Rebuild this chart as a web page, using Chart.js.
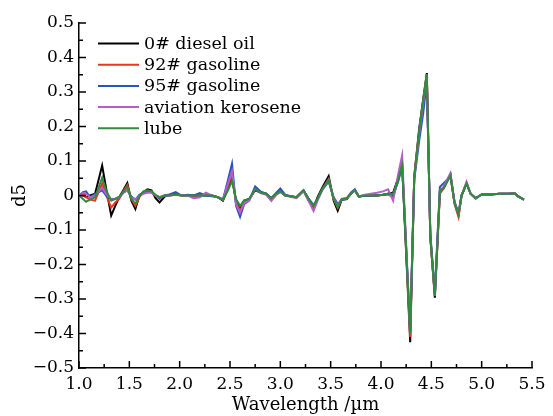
<!DOCTYPE html>
<html>
<head>
<meta charset="utf-8">
<script src="https://cdn.jsdelivr.net/npm/chart.js@4/dist/chart.umd.min.js"></script>
<style>
  html, body { margin: 0; padding: 0; background: #fff; }
  #wrap { width: 553px; height: 416px; }
</style>
</head>
<body>
<div id="wrap"><canvas id="c" width="553" height="416"></canvas></div>
<script>
// Fifth-derivative spectra (d5) of five oils against wavelength in µm
const wavelength = [
  1.00, 1.04, 1.07, 1.11, 1.16, 1.23, 1.27, 1.32, 1.36, 1.40,
  1.44, 1.48, 1.52, 1.56, 1.60, 1.64, 1.68, 1.72, 1.76, 1.80,
  1.85, 1.90, 1.96, 2.02, 2.08, 2.14, 2.20, 2.26, 2.32, 2.38,
  2.43, 2.48, 2.52, 2.56, 2.60, 2.64, 2.69, 2.75, 2.81, 2.86,
  2.91, 2.96, 3.00, 3.05, 3.10, 3.16, 3.23, 3.28, 3.33, 3.37,
  3.42, 3.48, 3.53, 3.57, 3.61, 3.66, 3.70, 3.74, 3.78, 3.84,
  3.90, 3.96, 4.02, 4.07, 4.12, 4.17, 4.21, 4.29, 4.33, 4.38,
  4.42, 4.455, 4.49, 4.535, 4.585, 4.62, 4.69, 4.73, 4.77, 4.80,
  4.85, 4.89, 4.94, 5.00, 5.08, 5.18, 5.26, 5.33, 5.36, 5.42
];

const diesel0 = [
  0.000, 0.000, -0.005, 0.000, 0.005, 0.087, 0.020, -0.058, -0.030, -0.005,
  0.015, 0.036, -0.015, -0.039, 0.000, 0.010, 0.018, 0.015, -0.008, -0.020,
  -0.003, 0.002, 0.005, 0.000, 0.000, 0.000, 0.000, 0.000, 0.000, -0.005,
  -0.015, 0.020, 0.050, -0.015, -0.035, -0.015, -0.010, 0.015, 0.008, 0.005,
  -0.008, 0.005, 0.012, 0.000, -0.002, -0.005, 0.015, -0.010, -0.035, -0.005,
  0.025, 0.056, -0.015, -0.044, -0.012, -0.010, 0.005, 0.015, -0.003, 0.000,
  0.000, 0.000, 0.002, 0.005, 0.008, 0.050, 0.090, -0.425, 0.055, 0.195,
  0.280, 0.355, -0.120, -0.296, 0.010, 0.020, 0.060, -0.020, -0.058, 0.000,
  0.035, 0.005, -0.008, 0.003, 0.003, 0.005, 0.005, 0.006, -0.002, -0.012
];

const gasoline92 = [
  0.000, 0.005, -0.005, -0.012, -0.015, 0.035, 0.000, -0.035, -0.020, -0.010,
  0.012, 0.030, -0.010, -0.030, -0.005, 0.010, 0.014, 0.012, 0.000, -0.010,
  0.000, 0.000, 0.002, 0.000, 0.000, -0.003, 0.000, 0.003, 0.000, -0.005,
  -0.012, 0.030, 0.060, -0.020, -0.045, -0.020, -0.012, 0.018, 0.010, 0.005,
  -0.010, 0.005, 0.012, 0.000, -0.002, -0.005, 0.015, -0.015, -0.038, -0.010,
  0.020, 0.048, -0.010, -0.036, -0.012, -0.008, 0.005, 0.015, -0.003, 0.000,
  0.000, 0.000, 0.002, 0.003, -0.005, 0.045, 0.095, -0.410, 0.050, 0.185,
  0.275, 0.350, -0.120, -0.290, 0.005, 0.020, 0.060, -0.025, -0.062, 0.000,
  0.035, 0.005, -0.008, 0.003, 0.003, 0.005, 0.005, 0.006, -0.002, -0.012
];

const gasoline95 = [
  0.000, 0.010, 0.012, -0.005, 0.005, 0.015, 0.000, -0.010, -0.010, -0.005,
  0.008, 0.015, -0.003, -0.012, 0.002, 0.008, 0.010, 0.010, 0.000, -0.008,
  0.000, 0.003, 0.010, 0.000, 0.002, 0.000, 0.007, 0.000, -0.002, -0.005,
  -0.012, 0.045, 0.092, -0.030, -0.062, -0.025, -0.015, 0.026, 0.010, 0.005,
  -0.008, 0.008, 0.020, 0.002, -0.002, -0.006, 0.014, -0.008, -0.028, -0.010,
  0.018, 0.040, -0.005, -0.025, -0.012, -0.010, 0.008, 0.018, -0.002, 0.000,
  0.000, 0.000, 0.002, 0.005, 0.000, 0.040, 0.085, -0.390, 0.045, 0.160,
  0.240, 0.330, -0.110, -0.280, 0.025, 0.035, 0.055, -0.018, -0.050, 0.000,
  0.035, 0.005, -0.008, 0.003, 0.003, 0.005, 0.005, 0.006, -0.002, -0.012
];

const aviationKerosene = [
  0.000, 0.008, 0.005, -0.005, 0.000, 0.022, 0.005, -0.012, -0.010, -0.005,
  0.008, 0.015, -0.005, -0.012, 0.000, 0.005, 0.008, 0.008, 0.000, -0.005,
  0.000, 0.000, 0.003, 0.000, 0.000, -0.008, -0.005, 0.008, 0.000, -0.005,
  -0.012, 0.035, 0.070, -0.025, -0.050, -0.022, -0.015, 0.018, 0.006, 0.002,
  -0.016, 0.002, 0.010, 0.000, -0.004, -0.008, 0.012, -0.015, -0.045, -0.015,
  0.018, 0.045, -0.008, -0.030, -0.010, -0.008, 0.005, 0.015, -0.003, 0.002,
  0.005, 0.008, 0.012, 0.018, -0.015, 0.060, 0.116, -0.400, 0.050, 0.180,
  0.270, 0.350, -0.120, -0.290, 0.015, 0.025, 0.065, -0.020, -0.055, 0.000,
  0.040, 0.005, -0.010, 0.003, 0.003, 0.005, 0.005, 0.006, -0.002, -0.012
];

const lube = [
  0.000, -0.010, -0.018, -0.012, -0.005, 0.052, 0.015, -0.015, -0.010, -0.003,
  0.010, 0.025, -0.010, -0.024, -0.002, 0.012, 0.015, 0.012, 0.002, -0.005,
  0.000, 0.000, 0.002, 0.000, 0.000, 0.000, 0.000, 0.000, 0.000, -0.005,
  -0.012, 0.015, 0.042, -0.010, -0.030, -0.015, -0.010, 0.018, 0.008, 0.005,
  -0.008, 0.005, 0.012, 0.000, -0.002, -0.005, 0.015, -0.010, -0.030, -0.010,
  0.020, 0.044, -0.010, -0.034, -0.010, -0.008, 0.005, 0.015, -0.003, 0.000,
  0.000, 0.000, 0.002, 0.005, 0.005, 0.044, 0.087, -0.400, 0.050, 0.190,
  0.280, 0.352, -0.120, -0.290, 0.015, 0.020, 0.058, -0.020, -0.055, 0.000,
  0.035, 0.005, -0.008, 0.003, 0.003, 0.005, 0.005, 0.006, -0.002, -0.012
];

// Legend order (top to bottom)
const seriesNames  = ['0# diesel oil', '92# gasoline', '95# gasoline', 'aviation kerosene', 'lube'];
const seriesValues = [diesel0, gasoline92, gasoline95, aviationKerosene, lube];
const seriesColors = ['#000000', '#ee3322', '#2a52c4', '#b45ec8', '#2e8c3c'];

const xTicks = [1.0, 1.5, 2.0, 2.5, 3.0, 3.5, 4.0, 4.5, 5.0, 5.5];
const xTickLabels = ['1.0', '1.5', '2.0', '2.5', '3.0', '3.5', '4.0', '4.5', '5.0', '5.5'];
const yTicks = [-0.5, -0.4, -0.3, -0.2, -0.1, 0, 0.1, 0.2, 0.3, 0.4, 0.5];
const yTickLabels = ['\u22120.5', '\u22120.4', '\u22120.3', '\u22120.2', '\u22120.1', '0', '0.1', '0.2', '0.3', '0.4', '0.5'];

const FONT = "'DejaVu Serif', 'Liberation Serif', serif";
Chart.defaults.font.family = FONT;
Chart.defaults.font.size = 17;
Chart.defaults.color = '#000';

// Inward major and minor tick marks on the left and bottom axes
const inwardTicks = {
  id: 'inwardTicks',
  afterDraw(chart) {
    const { ctx, chartArea: a, scales: { x, y } } = chart;
    ctx.save();
    ctx.strokeStyle = '#000';
    ctx.lineWidth = 1.5;
    ctx.beginPath();
    xTicks.forEach((v, i) => {
      const p = x.getPixelForValue(v);
      ctx.moveTo(p, a.bottom); ctx.lineTo(p, a.bottom - 7);
      if (i < xTicks.length - 1) {
        const m = x.getPixelForValue((v + xTicks[i + 1]) / 2);
        ctx.moveTo(m, a.bottom); ctx.lineTo(m, a.bottom - 4);
      }
    });
    yTicks.forEach((v, i) => {
      const p = y.getPixelForValue(v);
      ctx.moveTo(a.left, p); ctx.lineTo(a.left + 7, p);
      if (i < yTicks.length - 1) {
        const m = y.getPixelForValue((v + yTicks[i + 1]) / 2);
        ctx.moveTo(a.left, m); ctx.lineTo(a.left + 4, m);
      }
    });
    ctx.stroke();
    ctx.restore();
  }
};

// Legend drawn inside the plot, upper left
const insideLegend = {
  id: 'insideLegend',
  afterDraw(chart) {
    const ctx = chart.ctx;
    ctx.save();
    ctx.font = '17.5px ' + FONT;
    ctx.textBaseline = 'middle';
    ctx.fillStyle = '#000';
    seriesNames.forEach((name, i) => {
      const yy = 43.5 + i * 21.2;
      ctx.strokeStyle = seriesColors[i];
      ctx.lineWidth = 2;
      ctx.beginPath();
      ctx.moveTo(98, yy); ctx.lineTo(139, yy);
      ctx.stroke();
      ctx.fillText(name, 144, yy + 1);
    });
    ctx.restore();
  }
};

// Drawn back to front: first dataset ends up on top, so lube goes first
const datasets = seriesNames.map((name, i) => ({
  label: name,
  data: wavelength.map((w, k) => ({ x: w, y: seriesValues[i][k] })),
  borderColor: seriesColors[i],
  backgroundColor: seriesColors[i],
  borderWidth: 2,
  pointRadius: 0,
  tension: 0,
  fill: false
})).reverse();

new Chart(document.getElementById('c'), {
  type: 'line',
  data: { datasets },
  options: {
    responsive: false,
    animation: false,
    devicePixelRatio: 1,
    layout: { padding: { top: 23, right: 21, left: 0, bottom: 0 } },
    plugins: { legend: { display: false }, tooltip: { enabled: false } },
    scales: {
      x: {
        type: 'linear',
        min: 1.0,
        max: 5.5,
        afterBuildTicks: s => { s.ticks = xTicks.map(v => ({ value: v })); },
        afterFit: s => { s.height = 48; },
        grid: { display: true, drawOnChartArea: false, drawTicks: false },
        border: { display: true, color: '#000', width: 1.5 },
        ticks: {
          padding: 6,
          maxRotation: 0,
          autoSkip: false,
          color: '#000',
          callback: (v, i) => xTickLabels[i]
        },
        title: {
          display: true,
          text: 'Wavelength /\u00b5m',
          color: '#000',
          font: { size: 18 },
          padding: { top: 0, bottom: 0 }
        }
      },
      y: {
        type: 'linear',
        min: -0.5,
        max: 0.5,
        afterBuildTicks: s => { s.ticks = yTicks.map(v => ({ value: v })); },
        afterFit: s => { s.width = 79; },
        grid: { display: true, drawOnChartArea: false, drawTicks: false },
        border: { display: true, color: '#000', width: 1.5 },
        ticks: {
          padding: 5,
          autoSkip: false,
          color: '#000',
          callback: (v, i) => yTickLabels[i]
        },
        title: {
          display: true,
          text: 'd5',
          color: '#000',
          font: { size: 18 },
          padding: { top: 10, bottom: 0 }
        }
      }
    }
  },
  plugins: [inwardTicks, insideLegend]
});
</script>
</body>
</html>
